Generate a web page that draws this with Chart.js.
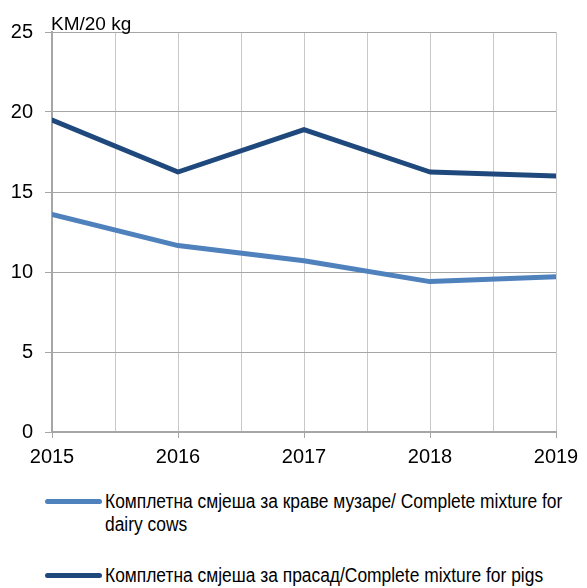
<!DOCTYPE html>
<html>
<head>
<meta charset="utf-8">
<script src="https://cdn.jsdelivr.net/npm/chart.js@4"></script>
<style>
  body { margin: 0; background: #fff; }
  #wrap { position: relative; width: 587px; height: 588px; }
  #chart { position: absolute; left: 0; top: 0; }
  .leg { position: absolute; left: 45px; font-family: "Liberation Sans", Arial, sans-serif; font-size: 20px; line-height: 23px; color: #000; }
  .leg .swatch { position: absolute; left: 0; width: 57px; height: 5px; border-radius: 3px; }
  .leg .txt { position: absolute; left: 60px; width: 554px; transform: scaleX(0.87); transform-origin: 0 0; }
</style>
</head>
<body>
<div id="wrap">
  <canvas id="chart" width="587" height="480"></canvas>
  <div id="legend"></div>
</div>
<script>
const years = [2015, 2016, 2017, 2018, 2019];
const cows = [13.6, 11.65, 10.7, 9.4, 9.7];
const pigs = [19.5, 16.25, 18.9, 16.25, 16.0];
const seriesNames = [
  "Комплетна смјеша за краве музаре/ Complete mixture for dairy cows",
  "Комплетна смјеша за прасад/Complete mixture for pigs",
];
const unitLabel = "KM/20 kg";
const colors = ["#4f81bd", "#1f497d"];

const font = "'Liberation Sans', Arial, sans-serif";
Chart.defaults.font.family = font;
Chart.defaults.color = "#000";

const unitPlugin = {
  id: "unit",
  afterDraw(chart) {
    const ctx = chart.ctx;
    ctx.save();
    ctx.font = "19px " + font;
    ctx.fillStyle = "#000";
    ctx.textBaseline = "alphabetic";
    ctx.fillText(unitLabel, chart.chartArea.left - 1, 30);
    ctx.restore();
  },
};

const toPoints = (vals) => vals.map((v, i) => ({ x: years[i], y: v }));

new Chart(document.getElementById("chart"), {
  type: "line",
  data: {
    datasets: [
      { label: seriesNames[0], data: toPoints(cows), borderColor: colors[0], backgroundColor: colors[0] },
      { label: seriesNames[1], data: toPoints(pigs), borderColor: colors[1], backgroundColor: colors[1] },
    ],
  },
  options: {
    responsive: false,
    animation: false,
    layout: { padding: { top: 32, right: 31, left: 0, bottom: 0 } },
    elements: {
      line: { borderWidth: 5, tension: 0, borderCapStyle: "round", borderJoinStyle: "round" },
      point: { radius: 0 },
    },
    plugins: { legend: { display: false }, tooltip: { enabled: false } },
    scales: {
      x: {
        type: "linear",
        min: 2015,
        max: 2019,
        afterFit: (s) => { s.height = 48; },
        ticks: {
          stepSize: 0.5,
          autoSkip: false,
          maxRotation: 0,
          padding: 7,
          font: { size: 20 },
          callback: (v) => (v % 1 === 0 ? String(v) : ""),
        },
        grid: {
          color: "#c8c8c8",
          tickLength: 6,
          tickColor: (c) => (c.tick && c.tick.value % 1 === 0 ? "#a6a6a6" : "rgba(0,0,0,0)"),
        },
        border: { color: "#a6a6a6", width: 2 },
      },
      y: {
        min: 0,
        max: 25,
        afterFit: (s) => { s.width = 52; },
        ticks: { stepSize: 5, padding: 12, font: { size: 20 } },
        grid: { color: "#a6a6a6", tickLength: 7, tickColor: "#a6a6a6" },
        border: { color: "#a6a6a6", width: 2 },
      },
    },
  },
  plugins: [unitPlugin],
});

// html legend so the long label can wrap like the original
const legendTops = [490, 564];
document.getElementById("legend").innerHTML = seriesNames
  .map((name, i) =>
    `<div class="leg" style="top:${legendTops[i]}px">
       <div class="swatch" style="top:9px;background:${colors[i]}"></div>
       <div class="txt">${name}</div>
     </div>`
  )
  .join("");
</script>
</body>
</html>
